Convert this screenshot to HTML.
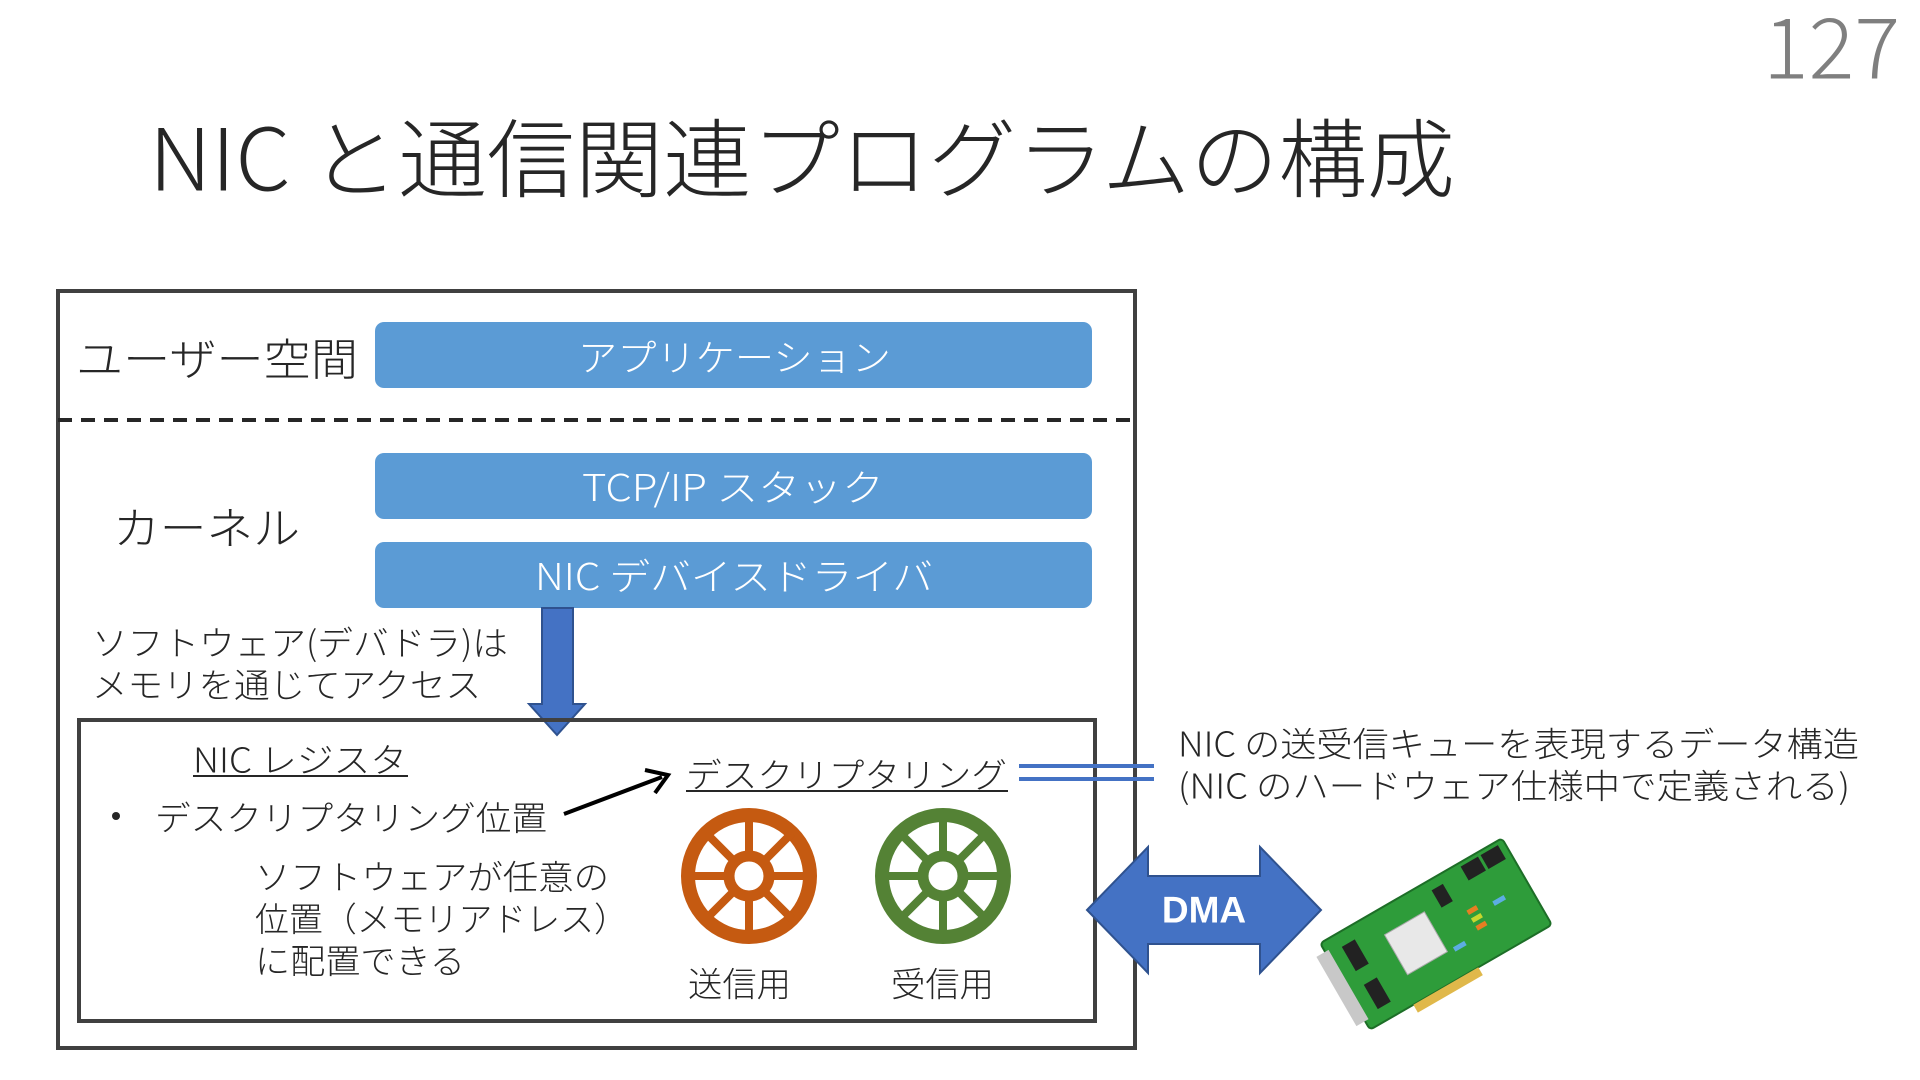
<!DOCTYPE html>
<html><head><meta charset="utf-8"><style>
html,body{margin:0;padding:0;background:#fff;}
svg{display:block;}
text{font-family:"Noto Sans CJK JP","Liberation Sans",sans-serif;font-weight:300;}
</style></head><body>
<svg width="1920" height="1080" viewBox="0 0 1920 1080" xmlns="http://www.w3.org/2000/svg">
<text x="1763" y="43" font-size="84" fill="#7f7f7f" dominant-baseline="central" textLength="137" lengthAdjust="spacingAndGlyphs">127</text>
<text x="149" y="153" font-size="86" fill="#262626" dominant-baseline="central" textLength="1306" lengthAdjust="spacingAndGlyphs">NIC と通信関連プログラムの構成</text>

<rect x="58" y="291" width="1077" height="757" fill="none" stroke="#404040" stroke-width="4"/>
<line x1="58" y1="420" x2="1135" y2="420" stroke="#262626" stroke-width="4" stroke-dasharray="14,9"/>
<text x="76" y="356" font-size="44" fill="#262626" dominant-baseline="central" textLength="282" lengthAdjust="spacingAndGlyphs">ユーザー空間</text>
<text x="113" y="525" font-size="44" fill="#262626" dominant-baseline="central" textLength="187" lengthAdjust="spacingAndGlyphs">カーネル</text>

<rect x="375" y="322" width="717" height="66" rx="9" fill="#5b9bd5"/>
<rect x="375" y="453" width="717" height="66" rx="9" fill="#5b9bd5"/>
<rect x="375" y="542" width="717" height="66" rx="9" fill="#5b9bd5"/>
<text x="578" y="355" font-size="37" fill="#fff" dominant-baseline="central" textLength="313" lengthAdjust="spacingAndGlyphs">アプリケーション</text>
<text x="582" y="485" font-size="37" fill="#fff" dominant-baseline="central" textLength="302" lengthAdjust="spacingAndGlyphs">TCP/IP スタック</text>
<text x="535" y="574" font-size="37" fill="#fff" dominant-baseline="central" textLength="398" lengthAdjust="spacingAndGlyphs">NIC デバイスドライバ</text>

<polygon points="542,608 573,608 573,704 585,704 557,735 529,704 542,704" fill="#4472c4" stroke="#2f528f" stroke-width="2"/>

<text x="92" y="641" font-size="34" fill="#262626" dominant-baseline="central" textLength="416" lengthAdjust="spacingAndGlyphs">ソフトウェア(デバドラ)は</text>
<text x="92" y="683" font-size="34" fill="#262626" dominant-baseline="central" textLength="389" lengthAdjust="spacingAndGlyphs">メモリを通じてアクセス</text>

<rect x="79" y="720" width="1016" height="301" fill="none" stroke="#404040" stroke-width="4"/>

<text x="193" y="758" font-size="34" fill="#262626" dominant-baseline="central" textLength="214" lengthAdjust="spacingAndGlyphs">NIC レジスタ</text>
<line x1="193" y1="776" x2="408" y2="776" stroke="#262626" stroke-width="2"/>
<circle cx="116" cy="816" r="4" fill="#262626"/>
<text x="155" y="816" font-size="34" fill="#262626" dominant-baseline="central" textLength="392" lengthAdjust="spacingAndGlyphs">デスクリプタリング位置</text>
<line x1="564" y1="814" x2="662" y2="777" stroke="#000" stroke-width="4"/>
<polyline points="645,770 668,775 655,793" fill="none" stroke="#000" stroke-width="4"/>
<text x="686" y="773" font-size="34" fill="#262626" dominant-baseline="central" textLength="321" lengthAdjust="spacingAndGlyphs">デスクリプタリング</text>
<line x1="686" y1="791" x2="1008" y2="791" stroke="#262626" stroke-width="2"/>

<line x1="1019" y1="766" x2="1154" y2="766" stroke="#4472c4" stroke-width="4"/>
<line x1="1019" y1="779" x2="1154" y2="779" stroke="#4472c4" stroke-width="4"/>
<text x="1178" y="742" font-size="34" fill="#262626" dominant-baseline="central" textLength="681" lengthAdjust="spacingAndGlyphs">NIC の送受信キューを表現するデータ構造</text>
<text x="1178" y="784" font-size="34" fill="#262626" dominant-baseline="central" textLength="672" lengthAdjust="spacingAndGlyphs">(NIC のハードウェア仕様中で定義される)</text>

<text x="255" y="875" font-size="34" fill="#262626" dominant-baseline="central" textLength="354" lengthAdjust="spacingAndGlyphs">ソフトウェアが任意の</text>
<text x="255" y="917" font-size="34" fill="#262626" dominant-baseline="central" textLength="373" lengthAdjust="spacingAndGlyphs">位置（メモリアドレス）</text>
<text x="255" y="959" font-size="34" fill="#262626" dominant-baseline="central" textLength="210" lengthAdjust="spacingAndGlyphs">に配置できる</text>

<g stroke="#c55a11" fill="none">
<circle cx="749" cy="876" r="61" stroke-width="14"/>
<circle cx="749" cy="876" r="20" stroke-width="11"/>
<g stroke-width="8">
<line x1="749" y1="815" x2="749" y2="856"/><line x1="749" y1="896" x2="749" y2="937"/>
<line x1="688" y1="876" x2="729" y2="876"/><line x1="769" y1="876" x2="810" y2="876"/>
<line x1="706" y1="833" x2="735" y2="862"/><line x1="763" y1="890" x2="792" y2="919"/>
<line x1="792" y1="833" x2="763" y2="862"/><line x1="735" y1="890" x2="706" y2="919"/>
</g></g>
<g stroke="#548235" fill="none">
<circle cx="943" cy="876" r="61" stroke-width="14"/>
<circle cx="943" cy="876" r="20" stroke-width="11"/>
<g stroke-width="8">
<line x1="943" y1="815" x2="943" y2="856"/><line x1="943" y1="896" x2="943" y2="937"/>
<line x1="882" y1="876" x2="923" y2="876"/><line x1="963" y1="876" x2="1004" y2="876"/>
<line x1="900" y1="833" x2="929" y2="862"/><line x1="957" y1="890" x2="986" y2="919"/>
<line x1="986" y1="833" x2="957" y2="862"/><line x1="929" y1="890" x2="900" y2="919"/>
</g></g>
<text x="688" y="982" font-size="34" fill="#262626" dominant-baseline="central" textLength="103" lengthAdjust="spacingAndGlyphs">送信用</text>
<text x="891" y="982" font-size="34" fill="#262626" dominant-baseline="central" textLength="103" lengthAdjust="spacingAndGlyphs">受信用</text>

<polygon points="1087,910 1148,847 1148,876 1260,876 1260,847 1321,910 1260,973 1260,944 1148,944 1148,973" fill="#4472c4" stroke="#2f528f" stroke-width="2"/>
<text x="1204" y="910" font-size="37" fill="#fff" style="font-family:'Liberation Sans',sans-serif;font-weight:700" text-anchor="middle" dominant-baseline="central">DMA</text>

<g transform="translate(1436,934) rotate(-30)">
<rect x="-105" y="-50" width="210" height="100" rx="4" fill="#2e9c3a" stroke="#1d6e27" stroke-width="2"/>
<rect x="-115" y="-40" width="14" height="80" fill="#c8c8c8"/>
<rect x="-45" y="-25" width="46" height="46" fill="#e8e8e8" stroke="#aaa"/>
<rect x="-88" y="-36" width="15" height="28" fill="#222"/>
<rect x="-88" y="8" width="15" height="28" fill="#222"/>
<rect x="18" y="-40" width="13" height="20" fill="#222"/>
<rect x="55" y="-46" width="20" height="16" fill="#222"/>
<rect x="78" y="-46" width="20" height="16" fill="#222"/>
<rect x="38" y="-5" width="11" height="5" fill="#e67e22"/>
<rect x="38" y="4" width="11" height="5" fill="#c8d62e"/>
<rect x="38" y="13" width="11" height="5" fill="#e67e22"/>
<rect x="65" y="0" width="13" height="5" fill="#5dade2"/>
<rect x="8" y="20" width="13" height="5" fill="#5dade2"/>
<rect x="-55" y="50" width="75" height="9" fill="#e0b84a"/>
</g>
</svg>
</body></html>
